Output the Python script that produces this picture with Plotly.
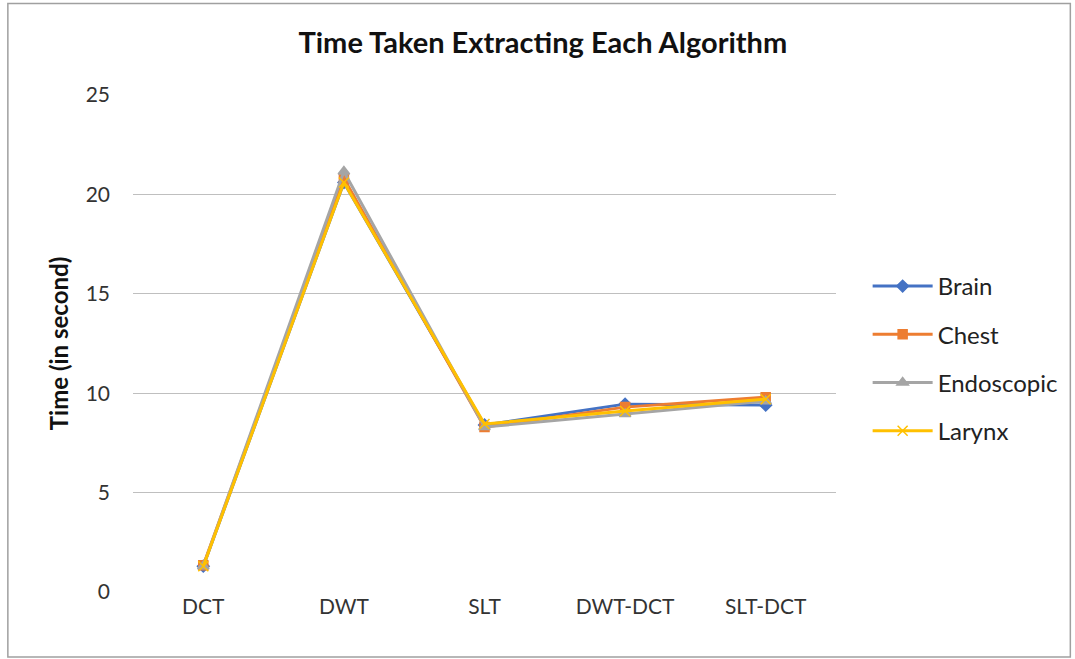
import plotly.graph_objects as go

categories = ["DCT", "DWT", "SLT", "DWT-DCT", "SLT-DCT"]
brain = [1.3, 20.6, 8.4, 9.45, 9.4]
chest = [1.35, 20.8, 8.3, 9.3, 9.8]
endoscopic = [1.3, 21.15, 8.3, 8.95, 9.6]
larynx = [1.3, 20.6, 8.45, 9.1, 9.7]

series = [
    ("Brain", brain, "#4472C4", "diamond", 9),
    ("Chest", chest, "#ED7D31", "square", 9),
    ("Endoscopic", endoscopic, "#A5A5A5", "triangle-up", 10),
    ("Larynx", larynx, "#FFC000", "x-thin", 10),
]

W, H = 1075, 659
L, R, T, B = 133, 237, 95, 67

fig = go.Figure()
for name, vals, color, sym, size in series:
    fig.add_trace(go.Scatter(
        x=categories, y=vals, name=name, mode="lines+markers",
        legendgroup=name,
        line=dict(color=color, width=3),
        marker=dict(symbol=sym, size=size, color=color,
                    line=dict(color=color, width=1.5)),
    ))

font = "Lato, 'Open Sans', sans-serif"
pw, ph = W - L - R, H - T - B
# thin frame around the whole chart
fig.add_shape(type="rect", xref="paper", yref="paper",
              x0=(7.5 - L) / pw, x1=(1073 - L) / pw,
              y0=(H - B - 657) / ph, y1=(H - B - 3.5) / ph,
              line=dict(color="#a0a0a0", width=1.5), layer="below")

fig.update_layout(
    width=W, height=H,
    margin=dict(l=L, r=R, t=T, b=B),
    paper_bgcolor="white", plot_bgcolor="white",
    font=dict(family=font, size=20, color="#222222"),
    title=dict(text="<b>Time Taken Extracting Each Algorithm</b>",
               x=0.505, xanchor="center", y=0.935, yanchor="middle",
               font=dict(size=29, color="#111111")),
    xaxis=dict(range=[-0.5, 4.5], showgrid=False, zeroline=False,
               showline=False, ticks="",
               tickfont=dict(size=21, color="#333333")),
    yaxis=dict(range=[0, 25], dtick=5, showgrid=True, gridcolor="#bfbfbf",
               gridwidth=1, zeroline=False, showline=False, ticks="",
               ticklabelstandoff=22,
               tickfont=dict(size=21, color="#333333"),
               title=dict(text="<b>Time (in second)</b>", standoff=10,
                          font=dict(size=24, color="#111111"))),
    legend=dict(x=1.045, xanchor="left", y=0.66, yanchor="top",
                tracegroupgap=14, font=dict(size=24, color="#222222"),
                itemwidth=60),
    showlegend=True,
)

fig.write_html("out.html")
